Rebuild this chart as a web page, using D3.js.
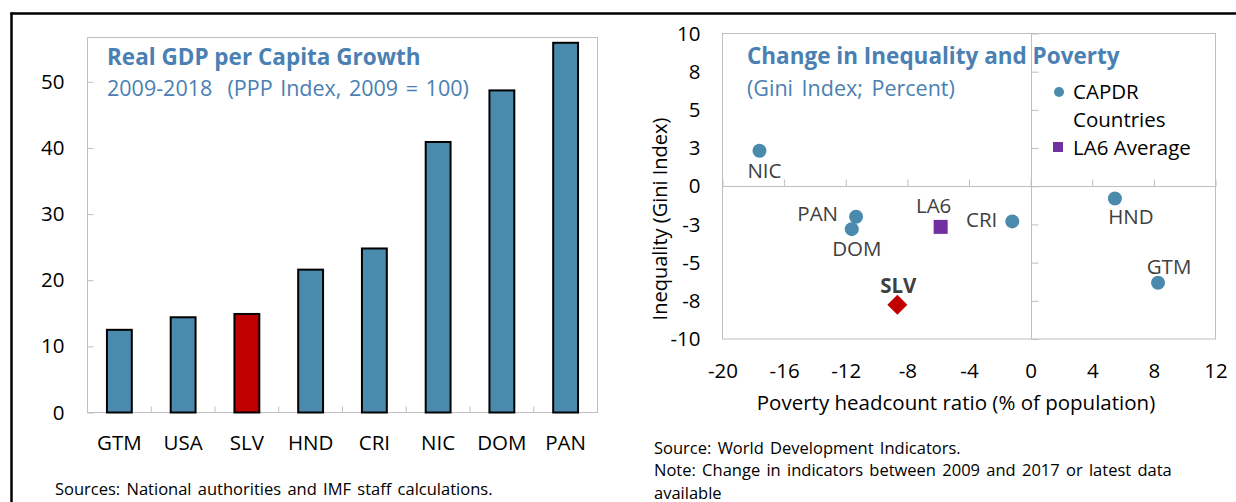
<!DOCTYPE html>
<html>
<head>
<meta charset="utf-8">
<script src="https://cdn.jsdelivr.net/npm/d3@7"></script>
<style>
  body { margin: 0; background: #fff; }
  svg { display: block; }
  svg text { font-family: "Open Sans", "Noto Sans", sans-serif; }
</style>
</head>
<body>
<div id="chart"></div>
<script>
// Left panel: real GDP per capita growth 2009-2018
var gdpCountries = ["GTM", "USA", "SLV", "HND", "CRI", "NIC", "DOM", "PAN"];
var gdpGrowth = [12.5, 14.4, 14.9, 21.6, 24.8, 40.9, 48.7, 55.9];
var gdpTicks = [0, 10, 20, 30, 40, 50];

// Right panel: change in poverty (x) and inequality (y)
var scatterNames = ["NIC", "PAN", "DOM", "CRI", "HND", "GTM", "LA6", "SLV"];
var povertyChange = [-17.6, -11.33, -11.61, -1.19, 5.47, 8.27, -5.84, -8.65];
var giniChange = [2.32, -2.0, -2.81, -2.30, -0.80, -6.32, -2.66, -7.76];
var scatterGroup = ["capdr", "capdr", "capdr", "capdr", "capdr", "capdr", "la6", "slv"];
var xTicks = [-20, -16, -12, -8, -4, 0, 4, 8, 12];
var yTicks = [10, 7.5, 5, 2.5, 0, -2.5, -5, -7.5, -10];
var yTickLabels = ["10", "8", "5", "3", "0", "-3", "-5", "-8", "-10"];

var W = 1236, H = 502;
var blue = "#4a8bad", red = "#c00000", purple = "#7030a0";
var titleBlue = "#4a80b2", grid = "#bfbfbf", labelGrey = "#404040";
var fs = "20.5px", titleFs = "22.5px", noteFs = "16.5px";

var svg = d3.select("#chart").append("svg")
    .attr("width", W)
    .attr("height", H);

// outer frame (top + left)
svg.append("line").attr("x1", 10.5).attr("x2", W).attr("y1", 13.5).attr("y2", 13.5)
    .attr("stroke", "#000").attr("stroke-width", 2.5);
svg.append("line").attr("x1", 11.5).attr("x2", 11.5).attr("y1", 12.5).attr("y2", H)
    .attr("stroke", "#000").attr("stroke-width", 2.5);

// ---------- left bar chart ----------
var L = { left: 87.5, right: 597.5, top: 37.5, bottom: 412.5 };

var x = d3.scaleBand()
    .domain(gdpCountries)
    .range([L.left, L.right])
    .paddingInner(0.61)
    .paddingOuter(0.305);

var y = d3.scaleLinear()
    .domain([0, 56.7])
    .range([L.bottom, L.top]);

svg.append("rect")
    .attr("x", L.left).attr("y", L.top)
    .attr("width", L.right - L.left).attr("height", L.bottom - L.top)
    .attr("fill", "none").attr("stroke", grid);

function styleAxisText(g) {
    g.attr("font-family", null).attr("font-size", null);
    g.select(".domain").remove();
    g.selectAll("line").attr("stroke", grid);
    g.selectAll("text").style("font-size", fs).attr("fill", "#000");
}

var yAxis = svg.append("g")
    .attr("transform", "translate(" + L.left + ",0)")
    .call(d3.axisLeft(y).tickValues(gdpTicks).tickSize(-6).tickPadding(23));
styleAxisText(yAxis);

var xAxis = svg.append("g")
    .attr("transform", "translate(0," + L.bottom + ")")
    .call(d3.axisBottom(x).tickSize(0));
styleAxisText(xAxis);
xAxis.selectAll("text").attr("y", 37).attr("dy", 0);

// category separators on the axis
svg.selectAll(".sep")
    .data(gdpCountries.slice(0, -1))
    .enter().append("line")
    .attr("x1", function(d) { return x(d) + x.bandwidth() + (x.step() - x.bandwidth()) / 2; })
    .attr("x2", function(d) { return x(d) + x.bandwidth() + (x.step() - x.bandwidth()) / 2; })
    .attr("y1", L.bottom).attr("y2", L.bottom - 6)
    .attr("stroke", grid);

svg.selectAll(".bar")
    .data(gdpCountries)
    .enter().append("rect")
    .attr("x", function(d) { return x(d); })
    .attr("y", function(d, i) { return y(gdpGrowth[i]); })
    .attr("width", x.bandwidth())
    .attr("height", function(d, i) { return y(0) - y(gdpGrowth[i]); })
    .attr("fill", function(d) { return d === "SLV" ? red : blue; })
    .attr("stroke", "#000")
    .attr("stroke-width", 2);

svg.append("text")
    .attr("x", 107).attr("y", 65)
    .style("font-size", titleFs).style("font-weight", "bold")
    .attr("fill", titleBlue)
    .text("Real GDP per Capita Growth");
svg.append("text")
    .attr("x", 107).attr("y", 96)
    .style("font-size", "21.5px")
    .style("white-space", "pre")
    .style("word-spacing", "2px")
    .attr("fill", titleBlue)
    .text("2009-2018  (PPP Index, 2009 = 100)");

svg.append("text")
    .attr("x", 55).attr("y", 495)
    .style("font-size", noteFs)
    .style("word-spacing", "2px")
    .attr("fill", "#000")
    .text("Sources: National authorities and IMF staff calculations.");

// ---------- right scatter ----------
var R = { left: 722.5, right: 1215.5, top: 33.5, bottom: 339 };

var sx = d3.scaleLinear().domain([-20, 12]).range([R.left, R.right]);
var sy = d3.scaleLinear().domain([-10, 10]).range([R.bottom, R.top]);

svg.append("rect")
    .attr("x", R.left).attr("y", R.top)
    .attr("width", R.right - R.left).attr("height", R.bottom - R.top)
    .attr("fill", "none").attr("stroke", grid);

// zero lines
svg.append("line")
    .attr("x1", R.left).attr("x2", R.right)
    .attr("y1", Math.round(sy(0)) + 0.5).attr("y2", Math.round(sy(0)) + 0.5)
    .attr("stroke", grid);
svg.append("line")
    .attr("x1", Math.round(sx(0)) + 0.5).attr("x2", Math.round(sx(0)) + 0.5)
    .attr("y1", R.top).attr("y2", R.bottom)
    .attr("stroke", grid);

// tick marks sit on the zero lines
var xTickMarks = svg.append("g")
    .attr("transform", "translate(0," + (Math.round(sy(0)) + 0.5) + ")")
    .call(d3.axisTop(sx).tickValues(xTicks).tickSize(7).tickFormat(""));
xTickMarks.select(".domain").remove();
xTickMarks.selectAll("line").attr("stroke", grid);

var yTickMarks = svg.append("g")
    .attr("transform", "translate(" + (Math.round(sx(0)) + 0.5) + ",0)")
    .call(d3.axisRight(sy).tickValues(yTicks).tickSize(7).tickFormat(""));
yTickMarks.select(".domain").remove();
yTickMarks.selectAll("line").attr("stroke", grid);

// tick labels along the outer box
var sxAxis = svg.append("g")
    .attr("transform", "translate(0," + R.bottom + ")")
    .call(d3.axisBottom(sx).tickValues(xTicks).tickSize(0)
        .tickFormat(function(d) { return String(d); }));
styleAxisText(sxAxis);
sxAxis.selectAll("text").attr("y", 39).attr("dy", 0);

var syAxis = svg.append("g")
    .attr("transform", "translate(" + R.left + ",0)")
    .call(d3.axisLeft(sy).tickValues(yTicks).tickSize(0).tickPadding(22)
        .tickFormat(function(d, i) { return yTickLabels[i]; }));
styleAxisText(syAxis);

svg.append("text")
    .attr("x", 956).attr("y", 410)
    .attr("text-anchor", "middle")
    .style("font-size", fs)
    .attr("fill", "#000")
    .text("Poverty headcount ratio (% of population)");

svg.append("text")
    .attr("transform", "translate(667,219) rotate(-90)")
    .attr("text-anchor", "middle")
    .style("font-size", "20px")
    .attr("fill", "#000")
    .text("Inequality (Gini Index)");

// points
var pts = scatterNames.map(function(n, i) {
    return { name: n, px: povertyChange[i], gy: giniChange[i], group: scatterGroup[i] };
});

svg.selectAll(".dot")
    .data(pts.filter(function(d) { return d.group === "capdr"; }))
    .enter().append("circle")
    .attr("cx", function(d) { return sx(d.px); })
    .attr("cy", function(d) { return sy(d.gy); })
    .attr("r", 7)
    .attr("fill", blue);

svg.selectAll(".sq")
    .data(pts.filter(function(d) { return d.group === "la6"; }))
    .enter().append("rect")
    .attr("x", function(d) { return sx(d.px) - 7; })
    .attr("y", function(d) { return sy(d.gy) - 7; })
    .attr("width", 14).attr("height", 14)
    .attr("fill", purple);

svg.selectAll(".dia")
    .data(pts.filter(function(d) { return d.group === "slv"; }))
    .enter().append("path")
    .attr("transform", function(d) { return "translate(" + sx(d.px) + "," + sy(d.gy) + ")"; })
    .attr("d", "M0,-10L10,0L0,10L-10,0Z")
    .attr("fill", red);

// data label placement (pixels from the marker)
var labelPlace = {
    NIC: [5, 27, "middle"], PAN: [-18, 4, "end"], DOM: [5, 27, "middle"],
    CRI: [-15, 6, "end"], HND: [16, 26, "middle"], GTM: [11, -9, "middle"],
    LA6: [-7, -14, "middle"], SLV: [1, -12, "middle"]
};

svg.selectAll(".lbl")
    .data(pts)
    .enter().append("text")
    .attr("x", function(d) { return sx(d.px) + labelPlace[d.name][0]; })
    .attr("y", function(d) { return sy(d.gy) + labelPlace[d.name][1]; })
    .attr("text-anchor", function(d) { return labelPlace[d.name][2]; })
    .style("font-size", fs)
    .style("font-weight", function(d) { return d.group === "slv" ? "bold" : "normal"; })
    .attr("fill", labelGrey)
    .text(function(d) { return d.name; });

// title + legend
svg.append("text")
    .attr("x", 747).attr("y", 64)
    .style("font-size", titleFs).style("font-weight", "bold")
    .attr("fill", titleBlue)
    .text("Change in Inequality and Poverty");
svg.append("text")
    .attr("x", 747).attr("y", 96)
    .style("font-size", "21.5px")
    .style("word-spacing", "3px")
    .attr("fill", titleBlue)
    .text("(Gini Index; Percent)");

svg.append("circle").attr("cx", 1059).attr("cy", 92).attr("r", 5).attr("fill", blue);
svg.append("text").attr("x", 1073).attr("y", 99).style("font-size", fs).attr("fill", "#000").text("CAPDR");
svg.append("text").attr("x", 1073).attr("y", 127).style("font-size", fs).attr("fill", "#000").text("Countries");
svg.append("rect").attr("x", 1053).attr("y", 142).attr("width", 10).attr("height", 10).attr("fill", purple);
svg.append("text").attr("x", 1073).attr("y", 155).style("font-size", fs).attr("fill", "#000").text("LA6 Average");

svg.append("text")
    .attr("x", 654).attr("y", 454)
    .style("font-size", noteFs).style("word-spacing", "2px").attr("fill", "#000")
    .text("Source: World Development Indicators.");
svg.append("text")
    .attr("x", 654).attr("y", 476)
    .style("font-size", noteFs).style("word-spacing", "2px").attr("fill", "#000")
    .text("Note: Change in indicators between 2009 and 2017 or latest data");
svg.append("text")
    .attr("x", 654).attr("y", 499)
    .style("font-size", noteFs).attr("fill", "#000")
    .text("available");
</script>
</body>
</html>
